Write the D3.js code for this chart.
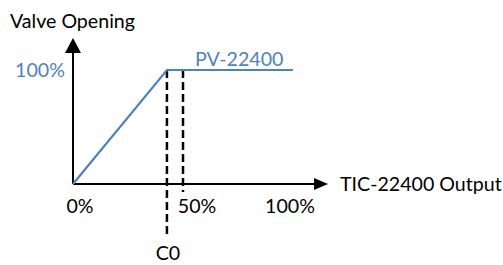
<!DOCTYPE html>
<html><head><meta charset="utf-8">
<script src="https://cdn.jsdelivr.net/npm/d3@7"></script>
<style>body{margin:0;background:#fff}svg{display:block}text{font-family:Lato,"Open Sans",sans-serif;font-size:19.6px}</style>
</head><body><svg id="c" width="503" height="265"></svg>
<script>
const xTicks = [0, 50, 100];
const xTickLabels = ["0%", "50%", "100%"];
const yTicks = [100];
const yTickLabels = ["100%"];
const pvX = [0, 42.7, 100];
const pvY = [0, 100, 100];
const c0 = 42.7;
const seriesName = "PV-22400";
const xTitle = "TIC-22400 Output";
const yTitle = "Valve Opening";
const c0Label = "C0";

const svg = d3.select("#c");
const x = d3.scaleLinear().domain([0, 100]).range([73, 293]);
const y = d3.scaleLinear().domain([0, 100]).range([184, 70]);
const blue = "#4f81bd";

// axes
svg.append("line").attr("x1", x(0)).attr("x2", 314).attr("y1", y(0)).attr("y2", y(0)).attr("stroke", "#000").attr("stroke-width", 2);
svg.append("path").attr("d", `M${314},${y(0)-6}L328,${y(0)}L314,${y(0)+6}Z`).attr("fill", "#000");
svg.append("line").attr("x1", x(0)).attr("x2", x(0)).attr("y1", y(0)).attr("y2", 52).attr("stroke", "#000").attr("stroke-width", 2);
svg.append("path").attr("d", `M${x(0)-8},53L${x(0)},38L${x(0)+8},53Z`).attr("fill", "#000");

// dashed lines
svg.append("line").attr("x1", x(c0)).attr("x2", x(c0)).attr("y1", y(100)).attr("y2", 237)
  .attr("stroke", "#000").attr("stroke-width", 2.5).attr("stroke-dasharray", "8,4");
svg.append("line").attr("x1", x(50)).attr("x2", x(50)).attr("y1", y(100)).attr("y2", 192)
  .attr("stroke", "#000").attr("stroke-width", 2.5).attr("stroke-dasharray", "8,4");

// series
const line = d3.line().x((d, i) => x(pvX[i])).y(d => y(d));
svg.append("path").datum(pvY).attr("d", line).attr("fill", "none").attr("stroke", blue).attr("stroke-width", 2.2);

// tick labels
const xOff = [7, 14, -3];
svg.selectAll(".xl").data(xTicks).join("text").attr("class", "xl")
  .attr("x", (d, i) => x(d) + xOff[i]).attr("y", 213).attr("text-anchor", "middle")
  .text((d, i) => xTickLabels[i]);
svg.selectAll(".yl").data(yTicks).join("text").attr("class", "yl")
  .attr("x", 40).attr("y", y(100) + 7).attr("text-anchor", "middle").attr("fill", blue)
  .text((d, i) => yTickLabels[i]);

svg.append("text").attr("x", 195).attr("y", 66).attr("fill", blue).text(seriesName);
svg.append("text").attr("x", 340).attr("y", 191).text(xTitle);
svg.append("text").attr("x", 10).attr("y", 28).text(yTitle);
svg.append("text").attr("x", x(c0) + 1).attr("y", 260).attr("text-anchor", "middle").text(c0Label);
</script></body></html>
